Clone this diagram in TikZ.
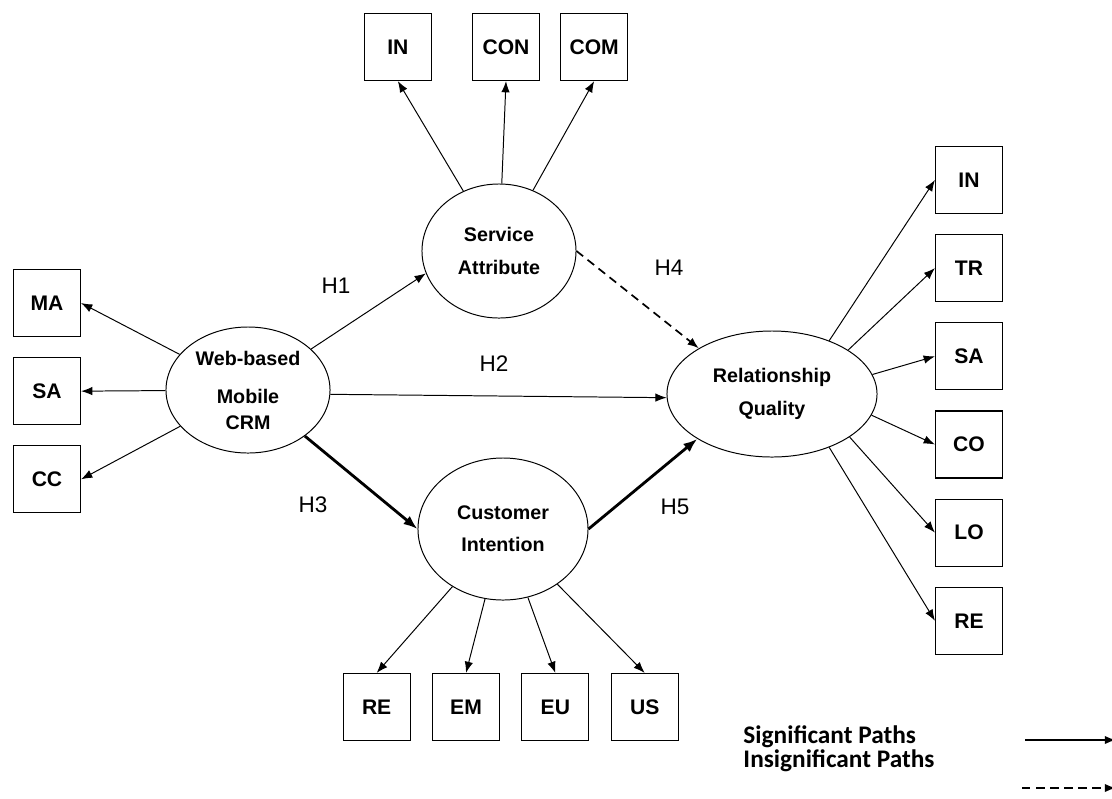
\documentclass[tikz,border=0pt]{standalone}
\usepackage{fontspec}
\setmainfont{Liberation Sans}
\newfontfamily\legendfont{Carlito}
\usetikzlibrary{arrows.meta,positioning,shapes.geometric}

\begin{document}
\begin{tikzpicture}[->,>={Latex[length=8pt,width=6pt]}, x=0.025cm, y=-0.025cm,
    line width=0.7pt,
    every node/.style={font=\fontsize{14}{23}\selectfont\bfseries},
    latent/.style={ellipse, draw, align=center, inner sep=0pt},
    indicator/.style={rectangle, draw, line width=0.8pt, minimum size=1.675cm, inner sep=0pt,
        font=\fontsize{15}{18}\selectfont\bfseries},
    hyp/.style={font=\fontsize{16}{18}\selectfont},
    legend/.style={anchor=base west, inner sep=0pt, font=\legendfont\fontsize{18}{20}\selectfont\bfseries},
    strong/.style={line width=2pt, -{Latex[length=10pt,width=7.5pt]}},
    weak/.style={line width=1.2pt, dash pattern=on 6pt off 4pt}
    ]
\useasboundingbox (0,0) rectangle (1112,798);
% \draw[help lines, step=100] (0,0) grid (1112,798);
% latent variables
\node[latent, minimum width=4.1cm, minimum height=3.15cm] (crm) at (248,390) {Web-based\\[4pt]Mobile\\[-4.5pt]CRM};
\node[latent, minimum width=3.85cm, minimum height=3.35cm] (sa) at (499,251) {Service\\Attribute};
\node[latent, minimum width=5.25cm, minimum height=3.15cm] (rq) at (772,394) {Relationship\\Quality};
\node[latent, minimum width=4.25cm, minimum height=3.55cm] (ci) at (503,529) {Customer\\Intention};
% Web-based Mobile CRM
\node[indicator] (ma) at (47,303) {MA};
\node[indicator, below=0.5cm of ma] (sat) {SA};
\node[indicator, below=0.5cm of sat] (cc) {CC};
% Service Attribute
\node[indicator] (con) at (506,47) {CON};
\node[indicator, left=1cm of con] (ins) {IN};
\node[indicator, right=0.5cm of con] (com) {COM};
% Relationship Quality
\node[indicator] (inr) at (969,180) {IN};
\node[indicator, below=0.5cm of inr] (tr) {TR};
\node[indicator, below=0.5cm of tr] (sar) {SA};
\node[indicator, below=0.5cm of sar] (co) {CO};
\node[indicator, below=0.5cm of co] (lo) {LO};
\node[indicator, below=0.5cm of lo] (rer) {RE};
% Customer Intention
\node[indicator] (em) at (466,707) {EM};
\node[indicator, left=0.53cm of em] (rec) {RE};
\node[indicator, right=0.53cm of em] (eu) {EU};
\node[indicator, right=0.53cm of eu] (us) {US};
% hypotheses
\node[hyp] (h1) at (336,286) {H1};
\node[hyp] (h2) at (494,364) {H2};
\node[hyp] (h3) at (313,505) {H3};
\node[hyp] (h4) at (669,268) {H4};
\node[hyp] (h5) at (675,507) {H5};
\path
(crm) edge (ma.east)
(crm) edge (sat.east)
(crm) edge (cc.east)
(sa) edge (ins.south)
(sa) edge (con.south)
(sa) edge (com.south)
(rq.43) edge (inr.west)
(rq.30) edge (tr.west)
(rq.11) edge (sar.west)
(rq.-12) edge (co.west)
(rq.-29) edge (lo.west)
(rq.-43) edge (rer.west)
(ci) edge (rec.north)
(ci) edge (em.north)
(ci) edge (eu.north)
(ci) edge (us.north)
(crm.33) edge (sa.197)
(crm.-3) edge (rq.182)
(crm.-39) edge[strong] (ci.west)
(ci.east) edge[strong] (rq.211)
(sa.east) edge[weak] (rq.148)
;
% legend
\node[legend] (sig) at (743,743) {Significant Paths};
\node[legend] (insig) at (743,767) {Insignificant Paths};
\coordinate (sigA) at (1025,740);
\coordinate (sigB) at (1116,740);
\coordinate (insA) at (1022,788);
\coordinate (insB) at (1116,788);
\draw[line width=1.2pt] (sigA) -- (sigB);
\draw[weak] (insA) -- (insB);
\end{tikzpicture}
\end{document}
